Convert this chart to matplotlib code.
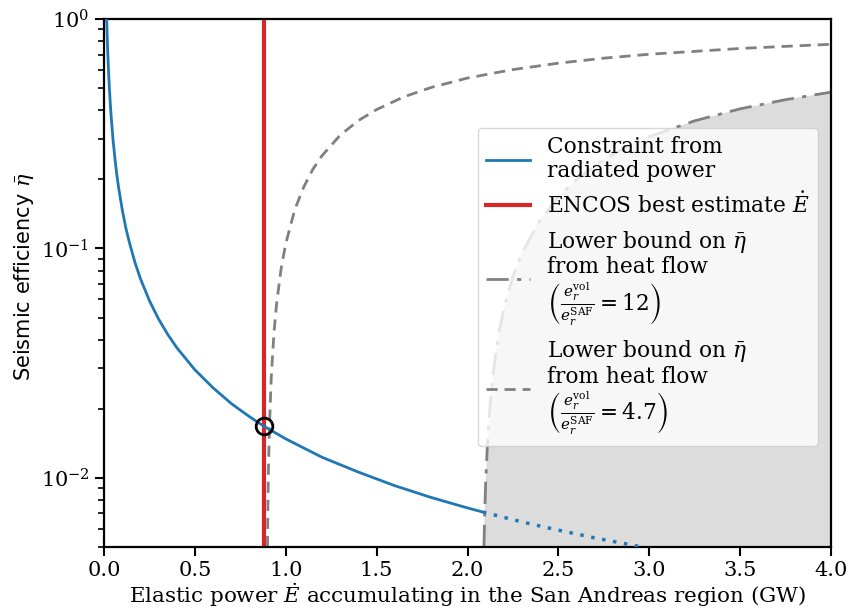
import matplotlib
matplotlib.use("Agg")
import matplotlib.pyplot as plt

plt.rcParams["font.family"] = "DejaVu Serif"
plt.rcParams["mathtext.fontset"] = "dejavuserif"

# Radiated-power constraint (solid part, then dotted continuation)
E_rad = [0.0148, 0.016, 0.018, 0.02, 0.025, 0.03, 0.035, 0.04, 0.05, 0.06, 0.07,
         0.08, 0.1, 0.12, 0.14, 0.17, 0.2, 0.25, 0.3, 0.35, 0.4, 0.5, 0.6, 0.7,
         0.8, 0.88, 1.0, 1.2, 1.4, 1.6, 1.8, 2.0, 2.085]
eta_rad = [1.0, 0.925, 0.822, 0.74, 0.592, 0.493, 0.423, 0.37, 0.296, 0.247, 0.211,
           0.185, 0.148, 0.123, 0.106, 0.0871, 0.074, 0.0592, 0.0493, 0.0423, 0.037,
           0.0296, 0.0247, 0.0211, 0.0185, 0.0168, 0.0148, 0.0123, 0.0106, 0.00925,
           0.00822, 0.0074, 0.0071]
E_rad_ext = [2.085, 2.3, 2.5, 2.7, 2.96]
eta_rad_ext = [0.0071, 0.00643, 0.00592, 0.00548, 0.005]

# ENCOS best estimate of elastic power
E_encos = 0.88
eta_encos = 0.0168

# Heat-flow lower bound, ratio 12
E_hf12 = [2.0905, 2.095, 2.1, 2.11, 2.125, 2.15, 2.175, 2.2, 2.25, 2.3, 2.4, 2.5,
          2.6, 2.75, 2.9, 3.0, 3.25, 3.5, 3.75, 4.0]
eta_hf12 = [0.005, 0.0072, 0.0095, 0.0142, 0.0212, 0.0326, 0.0437, 0.0545, 0.0756,
            0.0957, 0.133, 0.168, 0.2, 0.244, 0.283, 0.307, 0.36, 0.406, 0.445, 0.48]

# Heat-flow lower bound, ratio 4.7
E_hf47 = [0.8995, 0.902, 0.905, 0.91, 0.92, 0.935, 0.95, 0.975, 1.0, 1.05, 1.1,
          1.15, 1.2, 1.3, 1.4, 1.5, 1.65, 1.8, 2.0, 2.25, 2.5, 2.75, 3.0, 3.5, 4.0]
eta_hf47 = [0.005, 0.0078, 0.011, 0.0165, 0.0272, 0.0428, 0.0579, 0.0821, 0.105,
            0.148, 0.186, 0.222, 0.254, 0.312, 0.361, 0.403, 0.458, 0.503, 0.553,
            0.602, 0.642, 0.675, 0.702, 0.744, 0.776]

fig = plt.figure(figsize=(8.56, 6.08), dpi=100)
ax = fig.add_axes([104 / 856, 1 - 547 / 608, 727 / 856, 528 / 608])

ax.fill_between(E_hf12, eta_hf12, 1e-4, color="#dcdcdc", lw=0, zorder=1)

ax.plot(E_rad, eta_rad, color="tab:blue", lw=2, zorder=3,
        label="Constraint from\nradiated power")
ax.plot(E_rad_ext, eta_rad_ext, color="tab:blue", lw=2.5, ls=(0, (1, 2.2)), zorder=3)
ax.axvline(E_encos, color="tab:red", lw=3, zorder=2,
           label=r"ENCOS best estimate $\dot{E}$")
ax.plot(E_hf12, eta_hf12, color="gray", lw=2, ls=(0, (8, 3, 1.5, 3)), zorder=2,
        label="Lower bound on $\\bar{\\eta}$\nfrom heat flow\n"
              r"$\left(\frac{e_r^{\mathrm{vol}}}{e_r^{\mathrm{SAF}}} = 12\right)$")
ax.plot(E_hf47, eta_hf47, color="gray", lw=2, ls=(0, (4, 2.5)), zorder=2,
        label="Lower bound on $\\bar{\\eta}$\nfrom heat flow\n"
              r"$\left(\frac{e_r^{\mathrm{vol}}}{e_r^{\mathrm{SAF}}} = 4.7\right)$")
ax.plot([E_encos], [eta_encos], marker="o", ms=12, mfc="none", mec="black",
        mew=2, zorder=5)

ax.set_yscale("log")
ax.set_xlim(0, 4)
ax.set_ylim(0.005, 1)
ax.set_xticks([0, 0.5, 1.0, 1.5, 2.0, 2.5, 3.0, 3.5, 4.0])
ax.tick_params(axis="both", which="major", labelsize=15, length=6.5, width=1.5, pad=4)
ax.tick_params(axis="x", which="major", pad=3.3)
ax.tick_params(axis="both", which="minor", length=4, width=1.2)
for s in ax.spines.values():
    s.set_linewidth(1.6)

ax.set_xlabel(r"Elastic power $\dot{E}$ accumulating in the San Andreas region (GW)",
              fontsize=15.4)
ax.xaxis.set_label_coords(0.5, -0.106)
ax.xaxis.label.set_va("baseline")
ax.set_ylabel(r"Seismic efficiency $\bar{\eta}$", fontsize=15, family="DejaVu Sans")
ax.yaxis.set_label_coords(-0.094, 0.512)

leg = ax.legend(loc="upper left", bbox_to_anchor=(0.499, 0.815), fontsize=15.6,
                handlelength=2.0, handletextpad=0.8, labelspacing=0.5,
                borderpad=0.4, frameon=True, framealpha=0.8)
for t in leg.get_texts():
    t.set_linespacing(1.08)
leg.set_zorder(10)

fig.savefig("out.png", dpi=100)
